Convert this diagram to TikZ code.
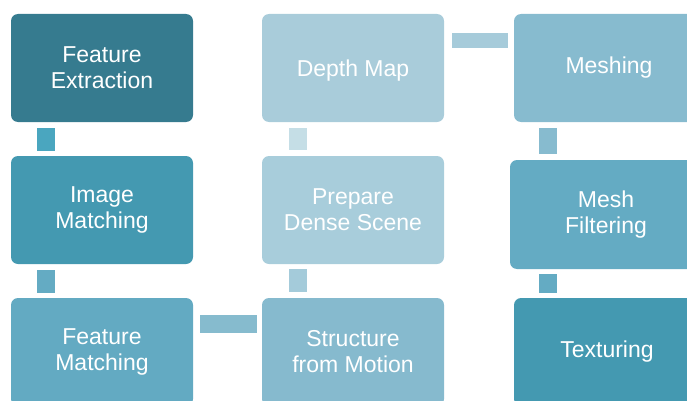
\documentclass[tikz,border=0pt]{standalone}
\usepackage{fontspec}
\setmainfont{Liberation Sans}
\definecolor{cFE}{HTML}{367B8F}
\definecolor{cIM}{HTML}{4499B1}
\definecolor{cFM}{HTML}{63AAC2}
\definecolor{cSF}{HTML}{86BACE}
\definecolor{cPD}{HTML}{A8CDDB}
\definecolor{cDM}{HTML}{A9CCDA}
\definecolor{cME}{HTML}{87BBCF}
\definecolor{cMF}{HTML}{64ABC3}
\definecolor{cTX}{HTML}{4499B1}
\definecolor{kFE}{HTML}{4AA6BF}
\definecolor{kIM}{HTML}{64ABC3}
\definecolor{kFM}{HTML}{86BBCE}
\definecolor{kSF}{HTML}{A4CBDA}
\definecolor{kPD}{HTML}{C5DEE6}
\definecolor{kDM}{HTML}{A6CBDA}
\definecolor{kME}{HTML}{87BBCF}
\definecolor{kMF}{HTML}{64ABC3}
\tikzset{
  stage/.style={rectangle, rounded corners=7pt, inner sep=0pt,
    minimum width=182pt, minimum height=108pt, text=white, align=center,
    font=\fontsize{23}{26}\selectfont},
  bar/.style={line width=18pt},
}
\begin{document}
\begin{tikzpicture}[x=1pt,y=1pt]
\useasboundingbox (0,0) rectangle (687,400);
\clip (0,0) rectangle (687,400);
% pipeline stages
\node[stage, fill=cFE] (fe) at (102,332) {Feature\\Extraction};
\node[stage, fill=cIM] (im) at (102,190) {Image\\Matching};
\node[stage, fill=cFM] (fm) at (102,48) {Feature\\Matching};
\node[stage, fill=cSF] (sf) at (353,48) {Structure\\from Motion};
\node[stage, fill=cPD] (pd) at (353,190) {Prepare\\Dense Scene};
\node[stage, fill=cDM] (dm) at (353,332) {};
\node[text=white, font=\fontsize{23}{26}\selectfont] (dmt) at ([yshift=-3pt]dm.center) {Depth Map};
\node[stage, fill=cME, minimum width=190pt] (me) at (609,332) {Meshing};
\node[stage, fill=cMF, minimum width=192pt, minimum height=109pt] (mf) at (606,185.5) {Mesh\\Filtering};
\node[stage, fill=cTX, minimum width=186pt] (tx) at (607,48) {Texturing};
% connecting bars
\draw[bar, kFE, shorten <=6pt, shorten >=5pt]
  ([xshift=35pt]fe.south west) -- ([xshift=35pt]fe.south west |- im.north);
\draw[bar, kIM, shorten <=6pt, shorten >=5pt]
  ([xshift=35pt]im.south west) -- ([xshift=35pt]im.south west |- fm.north);
\draw[bar, kFM, shorten <=7pt, shorten >=5pt]
  ([yshift=-26pt]fm.north east) -- ([yshift=-26pt]fm.north east -| sf.west);
\draw[bar, kSF, shorten <=6pt, shorten >=5pt]
  ([xshift=36pt]sf.north west) -- ([xshift=36pt]sf.north west |- pd.south);
\draw[bar, kPD, shorten <=6pt, shorten >=6pt]
  ([xshift=36pt]pd.north west) -- ([xshift=36pt]pd.north west |- dm.south);
\draw[line width=15pt, kDM, shorten <=8pt, shorten >=6pt]
  ([yshift=-26.5pt]dm.north east) -- ([yshift=-26.5pt]dm.north east -| me.west);
\draw[bar, kME, shorten <=6pt, shorten >=6pt]
  ([xshift=34.5pt]me.south west) -- ([xshift=34.5pt]me.south west |- mf.north);
\draw[bar, kMF, shorten <=5pt, shorten >=5pt]
  ([xshift=34.5pt]tx.north west |- mf.south) -- ([xshift=34.5pt]tx.north west);
\end{tikzpicture}
\end{document}
